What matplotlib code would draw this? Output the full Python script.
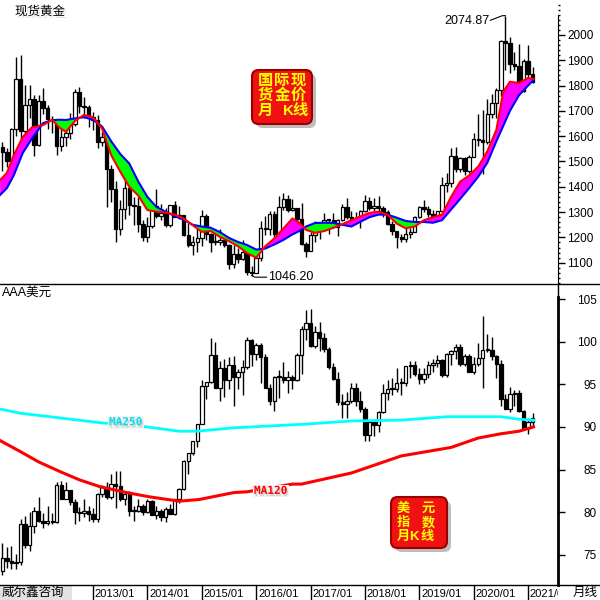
import numpy as np
import matplotlib
matplotlib.use('Agg')
import matplotlib.pyplot as plt
import matplotlib.patheffects as pe
from matplotlib.patches import FancyBboxPatch, Rectangle
from matplotlib.lines import Line2D
from matplotlib.ticker import MultipleLocator

plt.rcParams['font.family'] = ['Liberation Sans', 'Noto Sans CJK SC']

# monthly candles 2011/05 .. 2021/02 (index 0 = 2011/05)
gold_open = [1556, 1536, 1500, 1628, 1826, 1620, 1722, 1746,
             1564, 1738, 1710, 1669, 1664, 1561, 1598, 1614, 1648, 1773, 1719, 1714,
             1675, 1663, 1578, 1595, 1472, 1393, 1234, 1313, 1396, 1327, 1323, 1253,
             1202, 1244, 1326, 1284, 1296, 1250, 1327, 1282, 1287, 1211, 1171, 1182,
             1199, 1283, 1212, 1183, 1183, 1190, 1172, 1095, 1134, 1115, 1142, 1065,
             1061, 1118, 1238, 1234, 1293, 1215, 1322, 1351, 1309, 1316, 1272, 1173,
             1146, 1211, 1249, 1249, 1268, 1268, 1242, 1269, 1322, 1280, 1271, 1275,
             1303, 1345, 1318, 1325, 1315, 1299, 1253, 1224, 1201, 1192, 1215, 1222,
             1282, 1321, 1313, 1292, 1284, 1305, 1409, 1414, 1520, 1472, 1513, 1464,
             1517, 1589, 1585, 1577, 1687, 1730, 1781, 1975, 1968, 1886, 1879, 1777,
             1898, 1847]
gold_high = [1577, 1552, 1632, 1913, 1920, 1803, 1803, 1764,
             1764, 1790, 1723, 1680, 1668, 1640, 1627, 1692, 1787, 1796, 1755, 1723,
             1696, 1684, 1616, 1605, 1488, 1424, 1348, 1434, 1434, 1361, 1361, 1267,
             1280, 1332, 1392, 1331, 1315, 1325, 1345, 1324, 1287, 1256, 1206, 1238,
             1307, 1293, 1219, 1224, 1232, 1205, 1174, 1170, 1157, 1191, 1142, 1089,
             1123, 1263, 1283, 1304, 1303, 1362, 1375, 1366, 1353, 1318, 1337, 1181,
             1220, 1264, 1261, 1296, 1273, 1296, 1274, 1331, 1357, 1306, 1299, 1308,
             1366, 1361, 1356, 1365, 1326, 1309, 1266, 1224, 1214, 1243, 1237, 1284,
             1326, 1347, 1324, 1310, 1306, 1439, 1453, 1555, 1557, 1518, 1516, 1525,
             1611, 1689, 1704, 1747, 1765, 1789, 1981, 2074.87, 1992, 1933, 1966, 1906,
             1959, 1872]
gold_low = [1462, 1478, 1480, 1600, 1535, 1604, 1670, 1523,
            1563, 1689, 1627, 1612, 1527, 1540, 1563, 1589, 1642, 1692, 1672, 1635,
            1626, 1555, 1562, 1321, 1338, 1180, 1208, 1271, 1290, 1251, 1221, 1187,
            1182, 1238, 1277, 1268, 1240, 1240, 1281, 1273, 1204, 1161, 1131, 1142,
            1167, 1191, 1142, 1170, 1170, 1162, 1077, 1080, 1098, 1112, 1052, 1046.2,
            1062, 1107, 1208, 1210, 1199, 1200, 1310, 1302, 1305, 1241, 1171, 1122,
            1146, 1181, 1194, 1240, 1214, 1236, 1205, 1266, 1272, 1261, 1264, 1236,
            1302, 1307, 1303, 1301, 1282, 1250, 1211, 1160, 1180, 1182, 1196, 1221,
            1276, 1302, 1281, 1266, 1267, 1301, 1381, 1400, 1460, 1459, 1445, 1454,
            1517, 1563, 1451, 1568, 1670, 1671, 1757, 1863, 1848, 1860, 1764, 1775,
            1802, 1810]
gold_close = [1536, 1500, 1628, 1826, 1620, 1722, 1746, 1564,
              1738, 1710, 1669, 1664, 1561, 1598, 1614, 1648, 1773, 1719, 1714, 1675,
              1663, 1578, 1595, 1472, 1393, 1234, 1313, 1396, 1327, 1323, 1253, 1202,
              1244, 1326, 1284, 1296, 1250, 1327, 1282, 1287, 1211, 1171, 1182, 1199,
              1283, 1212, 1183, 1183, 1190, 1172, 1095, 1134, 1115, 1142, 1065, 1061,
              1118, 1238, 1234, 1293, 1215, 1322, 1351, 1309, 1316, 1272, 1173, 1146,
              1211, 1249, 1249, 1268, 1268, 1242, 1269, 1322, 1280, 1271, 1275, 1303,
              1345, 1318, 1325, 1315, 1299, 1253, 1224, 1201, 1192, 1215, 1222, 1282,
              1321, 1313, 1292, 1284, 1305, 1409, 1414, 1520, 1472, 1513, 1464, 1517,
              1589, 1585, 1577, 1687, 1730, 1781, 1975, 1968, 1886, 1879, 1777, 1898,
              1847, 1815]

# gold moving averages
ma_x = [-0.5, 1, 2.5, 4.5, 6.5, 9, 11, 12.5, 14, 16, 18, 20, 22, 24, 26, 28, 30, 32, 34,
        36, 38, 40, 42, 44, 46, 48, 50, 52, 54, 56, 58, 60, 62, 64, 65.5, 67, 69, 71,
        73, 75, 77, 79, 81, 83, 85, 87, 89, 91, 93, 95, 97, 99, 101, 103, 105, 107,
        109, 110.5, 112, 114, 116, 117.2]
ma_red = [1427, 1455, 1525, 1597, 1635, 1644, 1665, 1635, 1617, 1660, 1684, 1675, 1630,
          1525, 1460, 1400, 1365, 1308, 1302, 1298, 1290, 1275, 1248, 1222, 1225, 1202,
          1185, 1165, 1138, 1120, 1165, 1196, 1235, 1275, 1258, 1230, 1218, 1225, 1238,
          1252, 1268, 1283, 1297, 1302, 1290, 1255, 1236, 1243, 1268, 1280, 1290, 1360,
          1420, 1445, 1480, 1540, 1625, 1775, 1815, 1810, 1830, 1826]
ma_blue = [1368, 1395, 1445, 1534, 1590, 1652, 1663, 1665, 1664, 1670, 1675, 1665, 1638,
           1580, 1530, 1492, 1420, 1360, 1320, 1302, 1285, 1270, 1250, 1243, 1238, 1221,
           1198, 1182, 1170, 1152, 1156, 1172, 1190, 1212, 1225, 1243, 1257, 1258, 1257,
           1250, 1243, 1262, 1280, 1290, 1290, 1278, 1265, 1261, 1261, 1258, 1268, 1310,
           1352, 1395, 1440, 1495, 1580, 1640, 1700, 1762, 1800, 1822]

usd_open = [73.1, 74.6, 74.3, 74.1, 74.2, 78.6, 76.2, 78.4,
            80.2, 79.0, 78.7, 79.0, 78.8, 83.2, 81.6, 82.6, 81.2, 80.0, 79.9, 80.1,
            79.8, 79.2, 82.1, 83.0, 81.8, 83.3, 83.1, 81.5, 82.1, 80.2, 80.2, 80.7,
            80.0, 81.3, 79.7, 80.1, 79.5, 80.4, 79.8, 81.5, 82.7, 86.0, 87.0, 88.4,
            90.3, 94.8, 95.3, 98.4, 94.6, 96.9, 95.5, 97.3, 95.9, 96.4, 97.0, 100.2,
            98.6, 99.6, 98.2, 94.6, 93.1, 95.9, 95.9, 95.5, 95.9, 95.5, 98.4, 101.5,
            102.2, 99.5, 101.1, 100.4, 99.1, 97.0, 95.6, 92.9, 92.7, 93.1, 94.6, 93.0,
            92.1, 89.1, 90.6, 90.2, 91.8, 94.0, 94.5, 94.5, 95.1, 95.1, 97.1, 97.3,
            96.2, 95.6, 96.2, 97.3, 97.5, 97.8, 96.1, 98.5, 98.9, 99.4, 97.4, 98.3,
            96.4, 97.4, 98.1, 99.0, 99.0, 98.3, 97.4, 93.3, 92.1, 93.9, 94.0, 91.9,
            89.9, 90.6]
usd_high = [76.4, 75.9, 76.0, 75.1, 79.2, 79.6, 80.0, 80.6,
            81.8, 79.9, 80.7, 79.9, 83.5, 83.7, 83.5, 82.6, 81.6, 80.6, 81.5, 80.7,
            80.5, 82.3, 83.2, 83.6, 84.5, 84.8, 84.8, 82.4, 82.5, 80.7, 81.5, 81.0,
            81.5, 81.4, 80.7, 80.4, 80.6, 81.0, 81.6, 82.8, 86.1, 87.0, 88.4, 90.3,
            95.5, 95.3, 100.4, 100.0, 97.7, 98.0, 98.2, 98.3, 96.8, 97.8, 100.5, 100.3,
            99.9, 99.8, 98.6, 95.0, 96.0, 96.7, 97.6, 96.6, 96.1, 98.7, 101.8, 103.7,
            103.8, 101.8, 102.3, 101.0, 99.4, 97.5, 96.5, 93.9, 94.1, 95.2, 95.1, 94.2,
            92.3, 90.6, 90.9, 91.9, 95.0, 95.5, 95.7, 96.9, 95.7, 97.2, 97.7, 97.7,
            96.9, 96.9, 97.7, 98.0, 98.4, 98.0, 98.7, 99.0, 99.7, 99.7, 98.5, 98.5,
            98.2, 99.9, 103.0, 100.9, 100.6, 98.4, 97.8, 93.9, 94.7, 94.3, 94.3, 92.0,
            91.0, 91.6]
usd_low = [72.7, 73.5, 73.4, 73.4, 73.8, 75.8, 75.5, 77.6,
           78.9, 78.1, 78.5, 78.6, 78.7, 81.5, 81.6, 80.8, 78.6, 79.0, 79.5, 79.0,
           78.9, 78.9, 81.8, 81.6, 81.6, 80.5, 81.3, 80.8, 79.6, 79.0, 80.0, 79.7,
           79.9, 79.7, 79.2, 79.0, 78.9, 79.8, 79.7, 81.1, 82.6, 84.5, 86.7, 87.6,
           90.3, 93.3, 95.1, 94.6, 93.1, 93.5, 94.5, 92.5, 94.4, 93.8, 96.8, 97.2,
           97.9, 95.2, 94.6, 92.6, 91.9, 93.4, 95.2, 94.0, 94.5, 95.4, 96.2, 100.2,
           99.4, 99.2, 98.9, 98.8, 96.8, 95.5, 92.6, 91.0, 91.0, 92.8, 92.5, 91.8,
           88.4, 88.3, 88.9, 89.4, 91.6, 93.2, 93.7, 94.1, 93.8, 94.8, 95.7, 96.0,
           95.0, 95.2, 95.7, 96.5, 97.0, 95.8, 95.9, 97.3, 98.0, 97.1, 97.1, 96.4,
           96.2, 97.1, 94.6, 98.8, 97.9, 95.7, 92.5, 92.1, 91.7, 92.5, 91.7, 89.7,
           89.2, 90.1]
usd_close = [74.6, 74.3, 74.1, 74.2, 78.6, 76.2, 78.4, 80.2,
             79.0, 78.7, 79.0, 78.8, 83.2, 81.6, 82.6, 81.2, 80.0, 79.9, 80.1, 79.8,
             79.2, 82.1, 83.0, 81.8, 83.3, 83.1, 81.5, 82.1, 80.2, 80.2, 80.7, 80.0,
             81.3, 79.7, 80.1, 79.5, 80.4, 79.8, 81.5, 82.7, 86.0, 87.0, 88.4, 90.3,
             94.8, 95.3, 98.4, 94.6, 96.9, 95.5, 97.3, 95.9, 96.4, 97.0, 100.2, 98.6,
             99.6, 98.2, 94.6, 93.1, 95.9, 95.9, 95.5, 95.9, 95.5, 98.4, 101.5, 102.2,
             99.5, 101.1, 100.4, 99.1, 97.0, 95.6, 92.9, 92.7, 93.1, 94.6, 93.0, 92.1,
             89.1, 90.6, 90.2, 91.8, 94.0, 94.5, 94.5, 95.1, 95.1, 97.1, 97.3, 96.2,
             95.6, 96.2, 97.3, 97.5, 97.8, 96.1, 98.5, 98.9, 99.4, 97.4, 98.3, 96.4,
             97.4, 98.1, 99.0, 99.0, 98.3, 97.4, 93.3, 92.1, 93.9, 94.0, 91.9, 89.9,
             90.6, 91.0]

ma250_x = [-0.5, 4, 10.5, 21.5, 32, 39, 43, 51, 62, 66, 77, 88, 98, 110, 114, 117.3]
ma250 = [92.1, 91.6, 91.2, 90.5, 90.0, 89.5, 89.5, 89.9, 90.2, 90.3, 90.7, 90.8, 91.2, 91.2, 90.9, 90.8]
ma120_x = [-0.5, 4, 8, 13, 17, 21.5, 27.5, 32.5, 39, 43.5, 51, 54, 64, 66, 77, 88, 99, 105, 110, 114, 117.2]
ma120 = [88.4, 87.1, 85.9, 84.7, 83.8, 83.0, 82.3, 81.8, 81.3, 81.5, 82.3, 82.4, 83.3, 83.3,
         84.6, 86.6, 87.6, 88.7, 89.2, 89.5, 90.0]

years = [2013, 2014, 2015, 2016, 2017, 2018, 2019, 2020, 2021]

W = 600.0


def fx(x):
    return x / W


def fy(y):
    return 1 - y / W


def candles(ax, o, h, l, c, minh):
    o, h, l, c = map(np.asarray, (o, h, l, c))
    x = np.arange(len(c))
    ax.vlines(x, l, h, color='k', lw=1, zorder=2)
    up = c >= o
    lo = np.minimum(o, c)
    hh = np.maximum(np.abs(c - o), minh)
    ax.bar(x[up], hh[up], bottom=lo[up], width=0.75, color='white', edgecolor='k', lw=0.9, zorder=3)
    ax.bar(x[~up], hh[~up], bottom=lo[~up], width=0.75, color='k', edgecolor='k', lw=0.9, zorder=3)


fig = plt.figure(figsize=(6, 6), dpi=100)
ax1 = fig.add_axes([0, fy(284), fx(558), 284 / W])
ax2 = fig.add_axes([0, fy(585), fx(558), 301 / W])
ax3 = fig.add_axes([0, 0, fx(558), 15 / W])
xlim = (-0.53, 122.6)

# --- gold
candles(ax1, gold_open, gold_high, gold_low, gold_close, 3)
mx = np.array(ma_x)
r = np.array(ma_red)
b = np.array(ma_blue)
ax1.fill_between(mx, r, b, where=r >= b, interpolate=True, color='#ff00ff', lw=0, zorder=4)
ax1.fill_between(mx, r, b, where=r < b, interpolate=True, color='#00ff00', lw=0, zorder=4)
ax1.plot(mx, b, color='#0000ff', lw=1.5, zorder=5)
ax1.plot(mx, r, color='#ff0000', lw=1.5, zorder=6)
ax1.set_xlim(*xlim)
ax1.set_ylim(1016, 2138)
ax1.set_xticks([])
ax1.yaxis.tick_right()
ax1.set_yticks(range(1100, 2001, 100))
ax1.yaxis.set_minor_locator(MultipleLocator(20))
ax1.tick_params(axis='y', which='major', length=5, width=1, pad=1.5, labelsize=8.5)
ax1.tick_params(axis='y', which='minor', length=1.5, width=1)
for s in ['left', 'top', 'bottom']:
    ax1.spines[s].set_visible(False)
ax1.spines['right'].set_bounds(1016, 2079)

ax1.text(107.5, 2057, '2074.87', ha='right', va='center', fontsize=9)
ax1.plot([107.7, 110.3, 111.0], [2058, 2076, 2076], color='k', lw=0.8)
ax1.text(58.6, 1043, '1046.20', ha='left', va='center', fontsize=9)
ax1.plot([55.0, 55.7, 58.3], [1050, 1043, 1043], color='k', lw=0.8)

# --- dollar index
candles(ax2, usd_open, usd_high, usd_low, usd_close, 0.12)
ax2.plot(ma250_x, ma250, color='#00ffff', lw=2, zorder=5)
ax2.plot(ma120_x, ma120, color='#ff0000', lw=2.2, zorder=5)
ax2.set_xlim(*xlim)
ax2.set_ylim(71.47, 106.76)
ax2.set_xticks([])
ax2.yaxis.tick_right()
ax2.set_yticks(range(75, 106, 5))
ax2.tick_params(axis='y', which='major', length=5, width=1, pad=23, labelsize=8.5)
for lab in ax2.get_yticklabels():
    lab.set_horizontalalignment('right')
for s in ['left', 'top', 'bottom']:
    ax2.spines[s].set_visible(False)
ax2.spines['right'].set_linewidth(2)
ax2.spines['right'].set_bounds(71.47, 105.2)

shadow = [pe.withSimplePatchShadow(offset=(1, -1.5), shadow_rgbFace='#b0b0b0', alpha=0.5)]
ax2.text(23.5, 90.55, 'MA250', color='#00e0ea', fontsize=8, fontweight='bold',
         family='DejaVu Sans Mono', ha='left', va='center', zorder=7,
         bbox=dict(fc='#f2f2f2', ec='none', pad=1), path_effects=shadow)
ax2.text(55.5, 82.5, 'MA120', color='#ff0000', fontsize=8, fontweight='bold',
         family='DejaVu Sans Mono', ha='left', va='center', zorder=7,
         bbox=dict(fc='#f2f2f2', ec='none', pad=1), path_effects=shadow)

# --- date row
ax3.set_xlim(*xlim)
ax3.set_ylim(0, 1)
ax3.set_axis_off()
for y in years:
    i = 20 + 12 * (y - 2013)
    ax3.axvline(i, color='k', lw=1)
    ax3.text(i + 0.4, 0.42, f'{y}/01', fontsize=8, ha='left', va='center', clip_on=True)

# frame lines
for seg in [((0, 1), (fy(284), fy(284))), ((0, 1), (fy(585), fy(585))),
            ((fx(558), fx(558)), (fy(284), fy(300)))]:
    fig.add_artist(Line2D(seg[0], seg[1], color='k', lw=1, transform=fig.transFigure))

# captions
tshadow = [pe.withSimplePatchShadow(offset=(1.5, -1.5), shadow_rgbFace='#c0c0c0', alpha=0.5)]
fig.text(fx(15), fy(12), '现货黄金', fontsize=9, ha='left', va='center', path_effects=tshadow)
fig.text(fx(2), fy(293), 'AAA美元', fontsize=9, ha='left', va='center')
fig.add_artist(Rectangle((0, 0), fx(72), 14 / W, transform=fig.transFigure, fc='#e2e2e2', ec='none'))
fig.text(fx(2), fy(593), '威尔鑫咨询', fontsize=9, ha='left', va='center')
fig.text(fx(573), fy(593), '月线', fontsize=9, ha='left', va='center')


def red_box(x0, y0, x1, y1, chars, fs):
    sh = FancyBboxPatch((fx(x0 + 4), fy(y1 + 4)), fx(x1 - x0), (y1 - y0) / W,
                        boxstyle='round,pad=0,rounding_size=0.011', transform=fig.transFigure,
                        fc='#8a8a8a', ec='none', alpha=0.55)
    bx = FancyBboxPatch((fx(x0), fy(y1)), fx(x1 - x0), (y1 - y0) / W,
                        boxstyle='round,pad=0,rounding_size=0.011', transform=fig.transFigure,
                        fc='#f01212', ec='#9a0000', lw=1.5)
    fig.add_artist(sh)
    fig.add_artist(bx)
    for x, y, s in chars:
        fig.text(fx(x), fy(y), s, color='#ffff00', fontsize=fs, fontweight='bold',
                 ha='center', va='center')


red_box(252, 70, 312, 124,
        [(265, 81, '国'), (282, 81, '际'), (298, 81, '现'),
         (265, 96, '货'), (282, 96, '金'), (298, 96, '价'),
         (265, 111, '月'), (288, 111, 'K'), (300, 111, '线')], 11)
red_box(391, 497, 447, 548,
        [(403, 509, '美'), (428, 509, '元'),
         (403, 523, '指'), (428, 523, '数'),
         (403, 537, '月'), (414, 537, 'K'), (427, 537, '线')], 9.5)

fig.savefig('out.png', dpi=100)
